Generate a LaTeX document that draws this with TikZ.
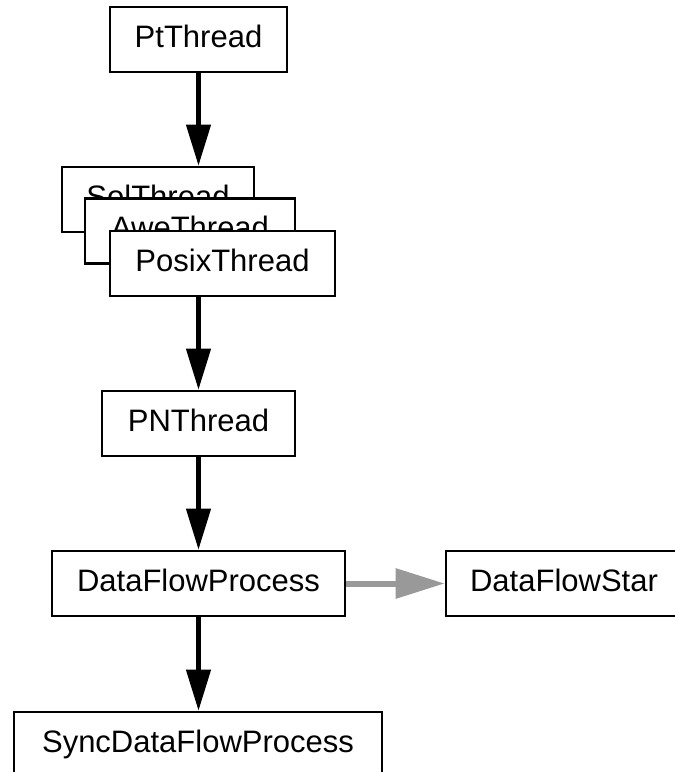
\documentclass[tikz,border=0pt]{standalone}
\usepackage{fontspec}
\setmainfont{Liberation Sans}
\usetikzlibrary{arrows.meta}
\definecolor{arrowgray}{RGB}{153,153,153}
\begin{document}
\begin{tikzpicture}[x=1pt,y=-1pt,
  cls/.style={draw=black,fill=white,line width=2.6pt,inner sep=0pt,
    minimum height=65pt,text height=22pt,text depth=7pt,
    font=\fontsize{31}{37}\selectfont},
  inherit/.style={line width=4.3pt,-{Triangle[length=41pt,width=24pt]}},
  uses/.style={draw=arrowgray,line width=6pt,
    -{Triangle[length=49pt,width=29pt,fill=arrowgray]}}]
\useasboundingbox (0,0) rectangle (675,772);
\clip (0,0) rectangle (675,772);
\node[cls,minimum width=177pt] (pt) at (198.5,39.5) {PtThread};
\node[cls,minimum width=192pt] (sol) at (158,199.5) {SolThread};
\node[cls,minimum width=210pt] (awe) at (190,231) {AweThread};
\node[cls,minimum width=225pt] (posix) at (222.5,263.5) {PosixThread};
\node[cls,minimum width=193pt] (pn) at (198.5,423.5) {PNThread};
\node[cls,minimum width=293pt] (dfp) at (198.5,583.5) {DataFlowProcess};
\node[cls,minimum width=236pt] (dfs) at (564,583.5) {DataFlowStar};
\node[cls,minimum width=368pt] (sync) at (198,744.5) {SyncDataFlowProcess};
\draw[inherit] (pt.south) -- (pt.south |- sol.north);
\draw[inherit] (posix.south -| pn.north) -- (pn.north);
\draw[inherit] (pn.south) -- (pn.south |- dfp.north);
\draw[inherit] (dfp.south) -- (dfp.south |- sync.north);
\draw[uses] (dfp.east) -- (dfs.west);
\end{tikzpicture}
\end{document}
